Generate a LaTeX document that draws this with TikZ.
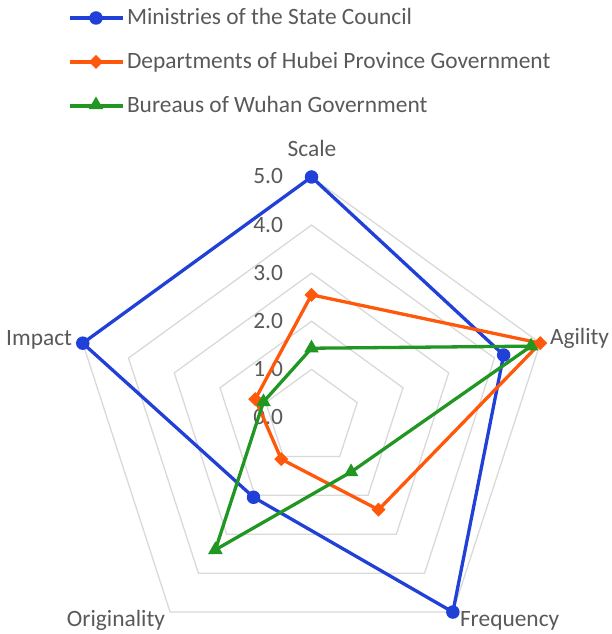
\documentclass[tikz,border=0pt]{standalone}
\usepackage{fontspec}
\setmainfont{Carlito}
\usetikzlibrary{shapes.geometric}
\definecolor{minblue}{RGB}{32,64,216}
\definecolor{hubred}{RGB}{255,88,10}
\definecolor{wuhgreen}{RGB}{34,150,34}
\definecolor{gridgray}{RGB}{217,217,217}
\definecolor{labelgray}{RGB}{89,89,89}
\newcommand{\runit}{48.1}

\begin{document}
\begin{tikzpicture}[x=1pt, y=1pt, font=\fontsize{23.4}{28}\selectfont, text=labelgray,
    every node/.style={inner sep=0pt, outer sep=0pt},
    gridline/.style={draw=gridgray, line width=1.3pt, line join=miter},
    series/.style={line width=3.3pt, line join=round},
    minmark/.style={circle, fill=minblue, minimum size=13.5pt},
    hubmark/.style={diamond, fill=hubred, minimum size=14pt},
    wuhmark/.style={regular polygon, regular polygon sides=3, fill=wuhgreen, minimum size=17pt}]
    \useasboundingbox (0,0) rectangle (612,634);

    % legend
    \coordinate (lg1a) at (70,616);
    \coordinate (lg1b) at (123,616);
    \coordinate (lg2a) at (70,572);
    \coordinate (lg2b) at (123,572);
    \coordinate (lg3a) at (70,528);
    \coordinate (lg3b) at (123,528);
    \draw[series, minblue] (lg1a) -- (lg1b);
    \draw[series, hubred] (lg2a) -- (lg2b);
    \draw[series, wuhgreen] (lg3a) -- (lg3b);
    \node[minmark] (lgm1) at (96,616) {};
    \node[hubmark] (lgm2) at (96,572) {};
    \node[wuhmark] (lgm3) at (96,529) {};
    \node[anchor=base west] (lgt1) at (127,609) {Ministries of the State Council};
    \node[anchor=base west] (lgt2) at (127,565) {Departments of Hubei Province Government};
    \node[anchor=base west] (lgt3) at (127,521) {Bureaus of Wuhan Government};

    % axis names
    \node[anchor=base] (scale) at (312,477) {Scale};
    \node[anchor=base west] (agility) at (550,289) {Agility};
    \node[anchor=base west] (frequency) at (460,8) {Frequency};
    \node[anchor=base east] (originality) at (165,8) {Originality};
    \node[anchor=base east] (impact) at (72,288) {Impact};

    \begin{scope}[shift={(311.5,216.5)}]
        % grid
        \draw[gridline] (90:{1*\runit}) -- (18:{1*\runit}) -- (-54:{1*\runit}) -- (-126:{1*\runit}) -- (162:{1*\runit}) -- cycle;
        \draw[gridline] (90:{2*\runit}) -- (18:{2*\runit}) -- (-54:{2*\runit}) -- (-126:{2*\runit}) -- (162:{2*\runit}) -- cycle;
        \draw[gridline] (90:{3*\runit}) -- (18:{3*\runit}) -- (-54:{3*\runit}) -- (-126:{3*\runit}) -- (162:{3*\runit}) -- cycle;
        \draw[gridline] (90:{4*\runit}) -- (18:{4*\runit}) -- (-54:{4*\runit}) -- (-126:{4*\runit}) -- (162:{4*\runit}) -- cycle;
        \draw[gridline] (90:{5*\runit}) -- (18:{5*\runit}) -- (-54:{5*\runit}) -- (-126:{5*\runit}) -- (162:{5*\runit}) -- cycle;

        % ticks
        \node[anchor=base east] (tick0) at (-28.5,-7) {0.0};
        \node[anchor=base east] (tick1) at (-28.5,41.1) {1.0};
        \node[anchor=base east] (tick2) at (-28.5,89.2) {2.0};
        \node[anchor=base east] (tick3) at (-28.5,137.3) {3.0};
        \node[anchor=base east] (tick4) at (-28.5,185.4) {4.0};
        \node[anchor=base east] (tick5) at (-28.5,233.5) {5.0};

        % data
        \coordinate (min1) at (90:{5*\runit});
        \coordinate (min2) at (18:{4.2*\runit});
        \coordinate (min3) at (-54:{5*\runit});
        \coordinate (min4) at (-126:{2.05*\runit});
        \coordinate (min5) at (162:{5*\runit});
        \coordinate (hub1) at (90:{2.55*\runit});
        \coordinate (hub2) at (18:{5*\runit});
        \coordinate (hub3) at (-54:{2.37*\runit});
        \coordinate (hub4) at (-126:{1.07*\runit});
        \coordinate (hub5) at (162:{1.23*\runit});
        \coordinate (wuh1) at (90:{1.44*\runit});
        \coordinate (wuh2) at (18:{4.8*\runit});
        \coordinate (wuh3) at (-54:{1.4*\runit});
        \coordinate (wuh4) at (-126:{3.4*\runit});
        \coordinate (wuh5) at (162:{1.05*\runit});

        \draw[series, minblue] (min1) -- (min2) -- (min3) -- (min4) -- (min5) -- cycle;
        \draw[series, hubred] (hub1) -- (hub2) -- (hub3) -- (hub4) -- (hub5) -- cycle;
        \draw[series, wuhgreen] (wuh1) -- (wuh2) -- (wuh3) -- (wuh4) -- (wuh5) -- cycle;

        \node[minmark] (minm1) at (min1) {};
        \node[minmark] (minm2) at (min2) {};
        \node[minmark] (minm3) at (min3) {};
        \node[minmark] (minm4) at (min4) {};
        \node[minmark] (minm5) at (min5) {};
        \node[hubmark] (hubm1) at (hub1) {};
        \node[hubmark] (hubm2) at (hub2) {};
        \node[hubmark] (hubm3) at (hub3) {};
        \node[hubmark] (hubm4) at (hub4) {};
        \node[hubmark] (hubm5) at (hub5) {};
        \node[wuhmark] (wuhm1) at (wuh1) {};
        \node[wuhmark] (wuhm2) at (wuh2) {};
        \node[wuhmark] (wuhm3) at (wuh3) {};
        \node[wuhmark] (wuhm4) at (wuh4) {};
        \node[wuhmark] (wuhm5) at (wuh5) {};
    \end{scope}
\end{tikzpicture}
\end{document}
